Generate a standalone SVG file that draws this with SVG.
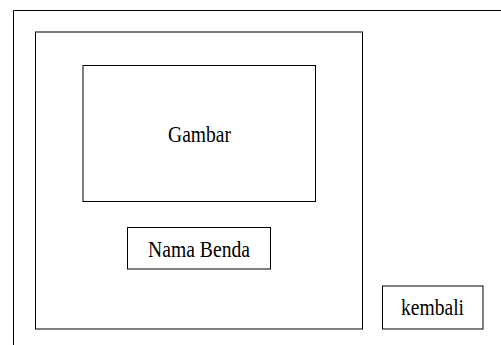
<svg xmlns="http://www.w3.org/2000/svg" width="501" height="345" viewBox="0 0 501 345">
<style>
.box{fill:none;stroke:#000;stroke-width:1}
.lbl{font-family:"Liberation Serif","Times New Roman",serif;font-size:23px;fill:#000;text-anchor:middle}
</style>
<rect width="501" height="345" fill="#fff"/>
<g id="frame">
<path d="M13.5 345 V10.5 H501" fill="none" stroke="#000" stroke-width="1"/>
</g>
<g id="screen">
<rect class="box" x="35.5" y="32" width="327" height="297"/>
</g>
<g id="gambar">
<rect class="box" x="83" y="65.5" width="232.5" height="136"/>
<text class="lbl" x="199.5" y="142" textLength="63" lengthAdjust="spacingAndGlyphs">Gambar</text>
</g>
<g id="nama-benda">
<rect class="box" x="127.5" y="227.5" width="143" height="41.5"/>
<text class="lbl" x="199" y="256.5" textLength="102" lengthAdjust="spacingAndGlyphs">Nama Benda</text>
</g>
<g id="kembali">
<rect class="box" x="382.5" y="286" width="100.5" height="43"/>
<text class="lbl" x="432.5" y="315" textLength="63" lengthAdjust="spacingAndGlyphs">kembali</text>
</g>
<g id="connectors"/>
</svg>
